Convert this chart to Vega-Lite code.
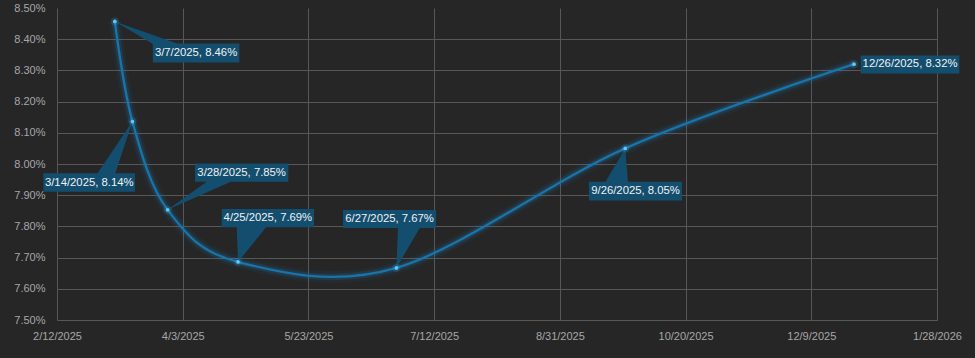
{
  "$schema": "https://vega.github.io/schema/vega-lite/v6.json",
  "width": 880,
  "height": 312,
  "autosize": {"type": "none"},
  "padding": {"left": 57, "top": 8, "right": 38, "bottom": 38},
  "background": "#262626",
  "config": {"view": {"stroke": null}, "font": "Liberation Sans"},
  "data": {
    "values": [
      {"date": "2025-03-07", "rate": 0.08457, "label": "3/7/2025, 8.46%"},
      {"date": "2025-03-14", "rate": 0.08136, "label": "3/14/2025, 8.14%"},
      {"date": "2025-03-28", "rate": 0.07853, "label": "3/28/2025, 7.85%"},
      {"date": "2025-04-25", "rate": 0.07686, "label": "4/25/2025, 7.69%"},
      {"date": "2025-06-27", "rate": 0.07667, "label": "6/27/2025, 7.67%"},
      {"date": "2025-09-26", "rate": 0.0805, "label": "9/26/2025, 8.05%"},
      {"date": "2025-12-26", "rate": 0.0832, "label": "12/26/2025, 8.32%"}
    ]
  },
  "encoding": {
    "x": {
      "field": "date",
      "type": "temporal",
      "scale": {
        "type": "utc",
        "nice": false,
        "domain": [
          {"year": 2025, "month": 2, "date": 12, "utc": true},
          {"year": 2026, "month": 1, "date": 28, "utc": true}
        ]
      },
      "axis": {
        "title": null,
        "values": [
          {"year": 2025, "month": 2, "date": 12, "utc": true},
          {"year": 2025, "month": 4, "date": 3, "utc": true},
          {"year": 2025, "month": 5, "date": 23, "utc": true},
          {"year": 2025, "month": 7, "date": 12, "utc": true},
          {"year": 2025, "month": 8, "date": 31, "utc": true},
          {"year": 2025, "month": 10, "date": 20, "utc": true},
          {"year": 2025, "month": 12, "date": 9, "utc": true},
          {"year": 2026, "month": 1, "date": 28, "utc": true}
        ],
        "format": "%-m/%-d/%Y",
        "domain": false,
        "ticks": false,
        "labelPadding": 10,
        "labelFlush": false,
        "labelOverlap": false,
        "labelColor": "#a6a6a6",
        "labelFontSize": 11,
        "gridColor": "#575757",
        "gridWidth": 1
      }
    },
    "y": {
      "field": "rate",
      "type": "quantitative",
      "scale": {"domain": [0.075, 0.085], "zero": false, "nice": false},
      "axis": {
        "title": null,
        "values": [0.075, 0.076, 0.077, 0.078, 0.079, 0.08, 0.081, 0.082, 0.083, 0.084, 0.085],
        "format": ".2%",
        "domain": false,
        "ticks": false,
        "labelPadding": 12,
        "labelColor": "#a6a6a6",
        "labelFontSize": 11,
        "gridColor": "#575757",
        "gridWidth": 1,
        "gridOpacity": {"condition": {"test": "datum.value > 0.0849", "value": 0}, "value": 1}
      }
    }
  },
  "layer": [
    {"mark": {"type": "line", "interpolate": "cardinal", "tension": 0, "color": "#1b86c4", "strokeWidth": 12, "opacity": 0.07}},
    {"mark": {"type": "line", "interpolate": "cardinal", "tension": 0, "color": "#1b86c4", "strokeWidth": 6.5, "opacity": 0.16}},
    {"mark": {"type": "line", "interpolate": "cardinal", "tension": 0, "color": "#1874aa", "strokeWidth": 2.3}},
    {
      "mark": {"type": "point", "filled": true, "color": "#134e6f", "opacity": 1, "strokeWidth": 0},
      "encoding": {
        "size": {"value": 4},
        "shape": {
          "field": "label",
          "type": "nominal",
          "legend": null,
          "scale": {
            "domain": ["3/7/2025, 8.46%", "3/14/2025, 8.14%", "3/28/2025, 7.85%", "4/25/2025, 7.69%", "6/27/2025, 7.67%", "9/26/2025, 8.05%", "12/26/2025, 8.32%"],
            "range": [
              "M38,22H124.5V41H38Z M0,0L65,23L39,23Z",
              "M-89,51.7H2.6V70.3H-89Z M0,0L-17.4,52.5L-35.4,52.5Z",
              "M27.4,-46.4H120.7V-28.2H27.4Z M0,0L40.4,-29L65.4,-29Z",
              "M-16.3,-53H76V-34.8H-16.3Z M0,0L-1.3,-35.5L28.7,-35.5Z",
              "M-53.4,-58H39.6V-39.8H-53.4Z M0,0L1.6,-40.5L23.6,-40.5Z",
              "M-36.2,33.3H56.8V52H-36.2Z M0,0L2.8,34L-20.2,34Z",
              "M6.7,-8.7H105.3V9.3H6.7Z"
            ]
          }
        }
      }
    },
    {"mark": {"type": "point", "filled": true, "color": "#3fb4ec", "size": 70, "opacity": 0.18}},
    {"mark": {"type": "point", "filled": true, "color": "#5ccaf7", "size": 14, "opacity": 1}},
    {
      "transform": [{"filter": "datum.label == '3/7/2025, 8.46%'"}],
      "mark": {"type": "text", "dx": 81.2, "dy": 31.6, "align": "center", "baseline": "middle", "color": "#f2f2f2", "fontSize": 11.3},
      "encoding": {"text": {"field": "label"}}
    },
    {
      "transform": [{"filter": "datum.label == '3/14/2025, 8.14%'"}],
      "mark": {"type": "text", "dx": -43.2, "dy": 61, "align": "center", "baseline": "middle", "color": "#f2f2f2", "fontSize": 11.3},
      "encoding": {"text": {"field": "label"}}
    },
    {
      "transform": [{"filter": "datum.label == '3/28/2025, 7.85%'"}],
      "mark": {"type": "text", "dx": 74, "dy": -37.3, "align": "center", "baseline": "middle", "color": "#f2f2f2", "fontSize": 11.3},
      "encoding": {"text": {"field": "label"}}
    },
    {
      "transform": [{"filter": "datum.label == '4/25/2025, 7.69%'"}],
      "mark": {"type": "text", "dx": 29.85, "dy": -43.9, "align": "center", "baseline": "middle", "color": "#f2f2f2", "fontSize": 11.3},
      "encoding": {"text": {"field": "label"}}
    },
    {
      "transform": [{"filter": "datum.label == '6/27/2025, 7.67%'"}],
      "mark": {"type": "text", "dx": -6.9, "dy": -48.9, "align": "center", "baseline": "middle", "color": "#f2f2f2", "fontSize": 11.3},
      "encoding": {"text": {"field": "label"}}
    },
    {
      "transform": [{"filter": "datum.label == '9/26/2025, 8.05%'"}],
      "mark": {"type": "text", "dx": 10.3, "dy": 42.7, "align": "center", "baseline": "middle", "color": "#f2f2f2", "fontSize": 11.3},
      "encoding": {"text": {"field": "label"}}
    },
    {
      "transform": [{"filter": "datum.label == '12/26/2025, 8.32%'"}],
      "mark": {"type": "text", "dx": 56, "dy": 0.3, "align": "center", "baseline": "middle", "color": "#f2f2f2", "fontSize": 11.3},
      "encoding": {"text": {"field": "label"}}
    }
  ]
}
